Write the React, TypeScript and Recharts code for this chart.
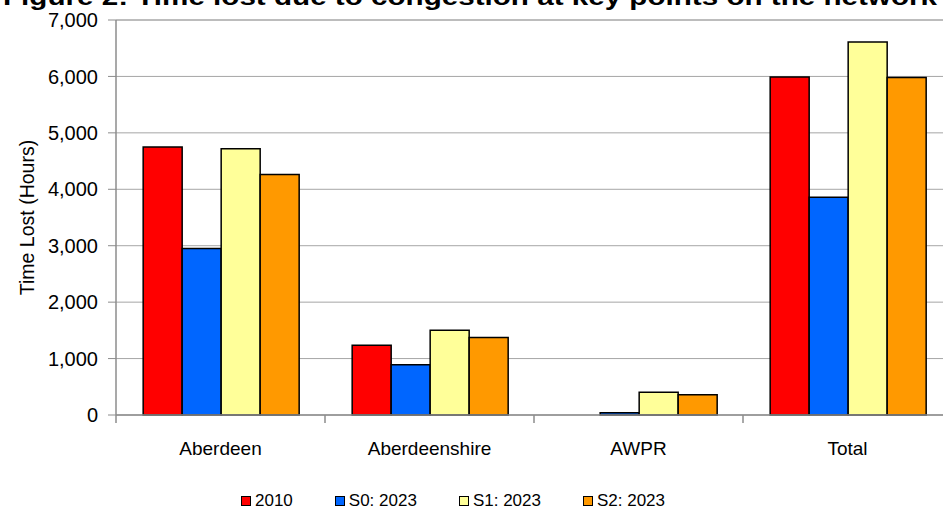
import React from "react";
import {
  BarChart,
  Bar,
  XAxis,
  YAxis,
  CartesianGrid,
  Legend,
  ReferenceLine,
} from "recharts";

const categories = ["Aberdeen", "Aberdeenshire", "AWPR", "Total"];
const y2010 = [4750, 1235, 0, 5990];
const s0_2023 = [2950, 890, 40, 3860];
const s1_2023 = [4720, 1500, 405, 6610];
const s2_2023 = [4260, 1375, 360, 5980];
const yTicks = [0, 1000, 2000, 3000, 4000, 5000, 6000, 7000];

const series = [
  { key: "y2010", name: "2010", color: "#ff0000" },
  { key: "s0", name: "S0: 2023", color: "#0066ff" },
  { key: "s1", name: "S1: 2023", color: "#ffff99" },
  { key: "s2", name: "S2: 2023", color: "#ff9900" },
];

const data = categories.map((c, i) => ({
  category: c,
  y2010: y2010[i],
  s0: s0_2023[i],
  s1: s1_2023[i],
  s2: s2_2023[i],
}));

const CHART_W = 960;
const CHART_H = 510;
const MARGIN = { top: 20, right: 8, left: 0, bottom: 0 };
const Y_AXIS_W = 116;
const FONT = "'Liberation Sans', Arial, sans-serif";
const BAND = (CHART_W - MARGIN.left - MARGIN.right - Y_AXIS_W) / categories.length;

function CategoryTick(props: any) {
  const { x, y, payload } = props;
  const left = x - BAND / 2;
  return (
    <g>
      <line x1={left} y1={y} x2={left} y2={y + 8} stroke="#8c8c8c" strokeWidth={1.5} />
      <text
        x={x}
        y={y + 40}
        textAnchor="middle"
        fontSize={19}
        fontFamily={FONT}
        fill="#000"
      >
        {payload.value}
      </text>
    </g>
  );
}

function LegendContent() {
  return (
    <div
      style={{
        display: "flex",
        justifyContent: "flex-start",
        paddingLeft: 241,
        height: 40,
        alignItems: "flex-end",
        fontFamily: FONT,
        fontSize: 17,
        color: "#000",
        gap: 42,
        boxSizing: "border-box",
        paddingBottom: 0,
      }}
    >
      {series.map((s) => (
        <div
          key={s.key}
          style={{ display: "flex", alignItems: "center", lineHeight: "18px", height: 18 }}
        >
          <span
            style={{
              display: "inline-block",
              width: 8,
              height: 8,
              background: s.color,
              border: "1.5px solid #000",
              marginRight: 4,
            }}
          />
          <span>{s.name}</span>
        </div>
      ))}
    </div>
  );
}

export default function App() {
  return (
    <div
      style={{
        position: "relative",
        width: 943,
        height: 510,
        overflow: "hidden",
        background: "#fff",
      }}
    >
      <style>{`body{margin:0;overflow:hidden}`}</style>
      <svg
        width={943}
        height={20}
        style={{ position: "absolute", left: 0, top: 0, zIndex: 2 }}
      >
        <text
          x={3}
          y={5}
          textLength={934}
          lengthAdjust="spacingAndGlyphs"
          fontSize={24}
          fontWeight="bold"
          fontFamily={FONT}
          fill="#000"
        >
          Figure 2: Time lost due to congestion at key points on the network
        </text>
      </svg>
      <BarChart
        width={CHART_W}
        height={CHART_H}
        data={data}
        margin={MARGIN}
        barCategoryGap="13%"
        barGap={0}
      >
        <CartesianGrid vertical={false} stroke="#a6a6a6" strokeWidth={1} />
        <XAxis
          dataKey="category"
          height={55}
          interval={0}
          tickLine={false}
          tickSize={0}
          tickMargin={0}
          tick={<CategoryTick />}
          axisLine={{ stroke: "#8c8c8c", strokeWidth: 1.5 }}
        />
        <YAxis
          width={Y_AXIS_W}
          domain={[0, 7000]}
          ticks={yTicks}
          interval={0}
          tickSize={8}
          tickMargin={10}
          tickFormatter={(v: number) => v.toLocaleString("en-US")}
          tick={{ fill: "#000", fontSize: 20, fontFamily: FONT }}
          tickLine={{ stroke: "#8c8c8c" }}
          axisLine={{ stroke: "#8c8c8c", strokeWidth: 1.5 }}
          label={{
            value: "Time Lost (Hours)",
            angle: -90,
            position: "center",
            dx: -31,
            style: { fill: "#000", fontSize: 19.5, fontFamily: FONT, fontWeight: 500 },
          }}
        />
        <ReferenceLine y={7000} stroke="#a6a6a6" />
        {series.map((s) => (
          <Bar
            key={s.key}
            dataKey={s.key}
            name={s.name}
            fill={s.color}
            stroke="#000"
            strokeWidth={1.5}
            isAnimationActive={false}
          />
        ))}
        <Legend verticalAlign="bottom" content={<LegendContent />} wrapperStyle={{ height: 40 }} />
      </BarChart>
    </div>
  );
}
